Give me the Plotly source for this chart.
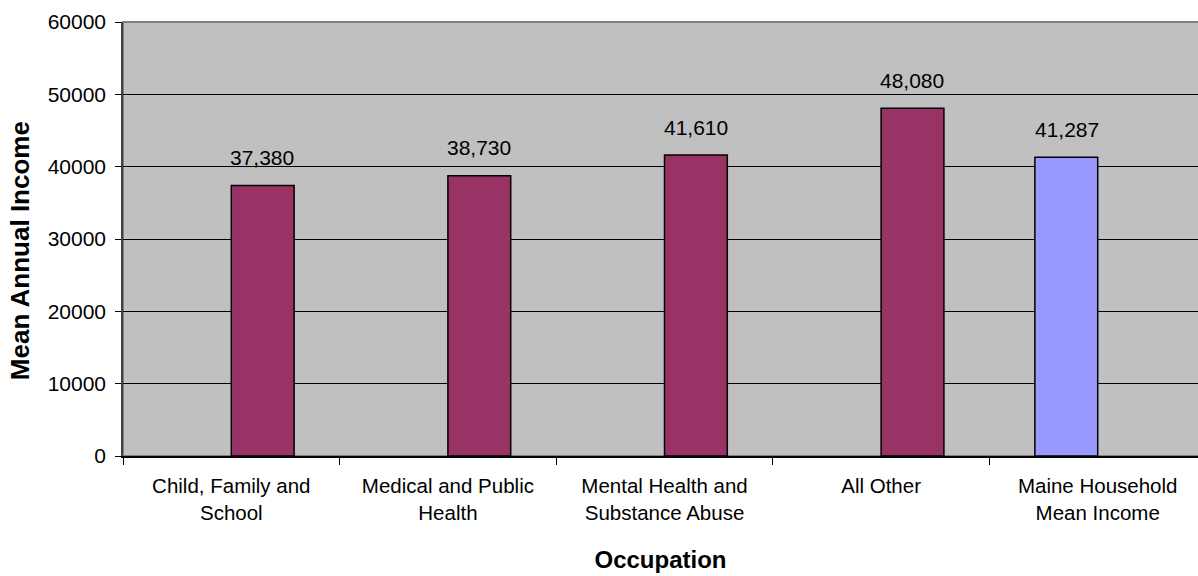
import plotly.graph_objects as go

categories = ["Child, Family and<br>School", "Medical and Public<br>Health",
              "Mental Health and<br>Substance Abuse", "All Other",
              "Maine Household<br>Mean Income"]
occupation_values = [37380, 38730, 41610, 48080, None]
household_values = [None, None, None, None, 41287]
y_ticks = [0, 10000, 20000, 30000, 40000, 50000, 60000]

FONT = "Liberation Sans, Arial, sans-serif"

fig = go.Figure()
fig.add_trace(go.Bar(x=categories, y=household_values, name="Maine Household",
                     marker=dict(color="#9999FF", line=dict(color="black", width=1.5))))
fig.add_trace(go.Bar(x=categories, y=occupation_values, name="Occupation",
                     marker=dict(color="#993366", line=dict(color="black", width=1.5))))

annotations = []
for cat, v in zip(categories, occupation_values):
    if v is not None:
        annotations.append(dict(x=cat, y=v, xref="x", yref="y", text=f"{v:,}",
                                showarrow=False, xshift=31, yshift=28, yanchor="middle",
                                font=dict(family=FONT, size=21, color="black")))
for cat, v in zip(categories, household_values):
    if v is not None:
        annotations.append(dict(x=cat, y=v, xref="x", yref="y", text=f"{v:,}",
                                showarrow=False, xshift=-31, yshift=28, yanchor="middle",
                                font=dict(family=FONT, size=21, color="black")))
annotations.append(dict(x=-0.0958, y=0.472, xref="paper", yref="paper",
                        text="<b>Mean Annual Income</b>", textangle=-90, showarrow=False,
                        xanchor="center", yanchor="middle",
                        font=dict(family=FONT, size=26, color="black")))

fig.update_layout(
    width=1198, height=576,
    margin=dict(l=123, r=0, t=22, b=120),
    paper_bgcolor="white", plot_bgcolor="#C0C0C0",
    barmode="group", bargap=0.42, bargroupgap=0,
    showlegend=False,
    font=dict(family=FONT, size=21, color="black"),
    annotations=annotations,
    shapes=[dict(type="rect", xref="paper", yref="paper", x0=0, x1=1.02, y0=0, y1=1,
                 line=dict(color="#808080", width=2), layer="below")],
)
fig.update_xaxes(
    range=[-0.5, 4.5 - 8 / 216.7],
    tickson="boundaries", ticks="outside", ticklen=7, tickcolor="black",
    tickfont=dict(family=FONT, size=20.5),
    showline=True, linecolor="black", linewidth=1.5,
    showgrid=False,
    title=dict(text="<b>Occupation</b>", font=dict(family=FONT, size=24), standoff=28),
    ticklabelstandoff=11,
)
fig.update_yaxes(
    range=[0, 60000], tickvals=y_ticks, ticktext=[str(t) for t in y_ticks],
    ticks="outside", ticklen=6, tickcolor="black",
    tickfont=dict(family=FONT, size=21),
    ticklabelstandoff=5,
    showline=True, linecolor="#404040", linewidth=1.5,
    showgrid=True, gridcolor="black", gridwidth=1,
    zeroline=False,
)

fig.write_html("out.html")
